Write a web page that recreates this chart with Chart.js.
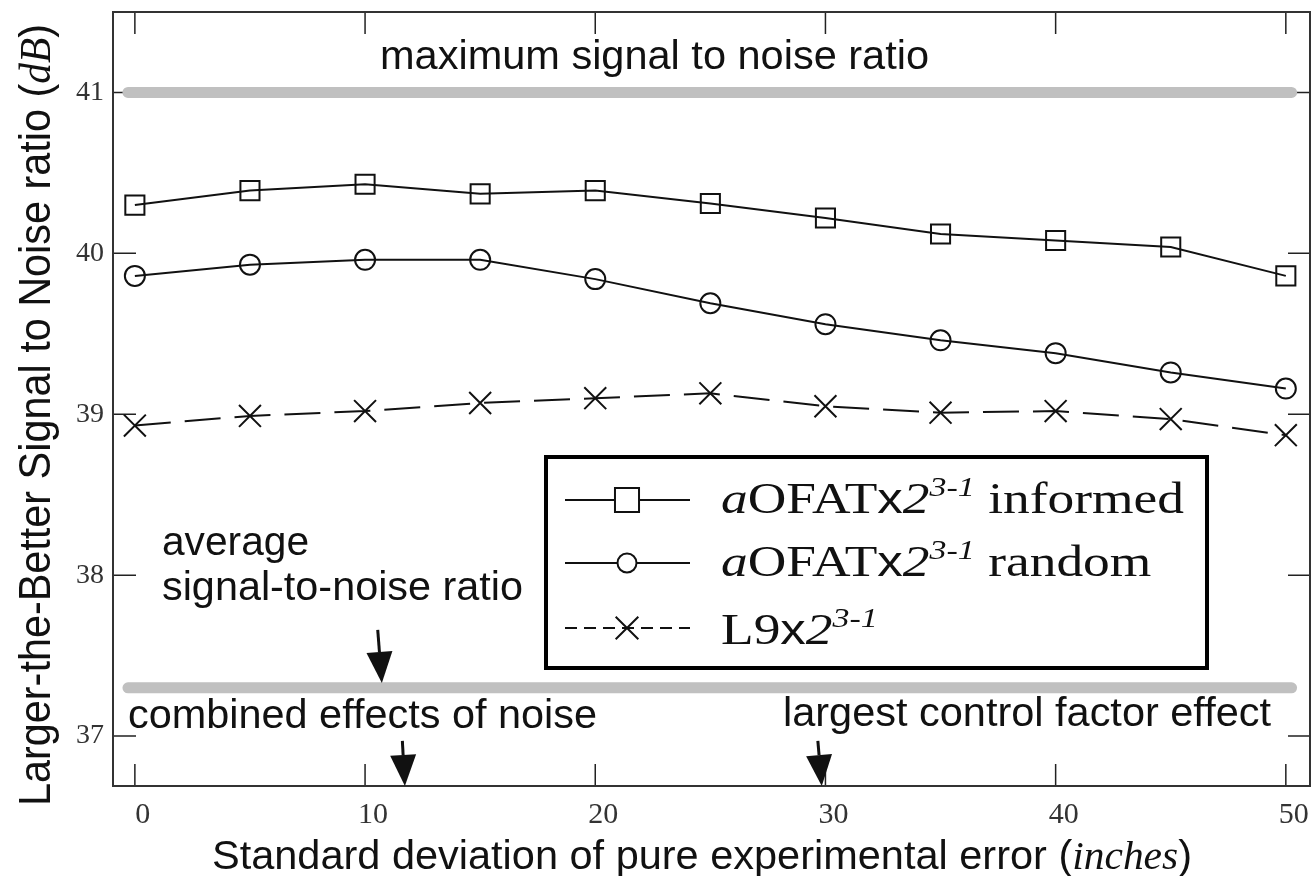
<!DOCTYPE html>
<html lang="en">
<head>
<meta charset="UTF-8">
<title>Larger-the-Better Signal to Noise ratio</title>
<script src="https://cdn.jsdelivr.net/npm/chart.js"></script>
<style>
  body { margin: 0; background: #fff; }
  .wrap { width: 1312px; height: 876px; position: relative; }
</style>
</head>
<body>
<div class="wrap"><canvas id="snChart"></canvas></div>
<script>
// standard deviation of pure experimental error (inches)
const errorSD = [0, 5, 10, 15, 20, 25, 30, 35, 40, 45, 50];
// larger-the-better S/N ratio (dB) per design
const informedSN = [40.30, 40.39, 40.43, 40.37, 40.39, 40.31, 40.22, 40.12, 40.08, 40.04, 39.86];
const randomSN   = [39.86, 39.93, 39.96, 39.96, 39.84, 39.69, 39.56, 39.46, 39.38, 39.26, 39.16];
const l9SN       = [38.93, 38.99, 39.02, 39.07, 39.10, 39.13, 39.05, 39.01, 39.02, 38.97, 38.87];

const xTicks = [0, 10, 20, 30, 40, 50];
const yTicks = [37, 38, 39, 40, 41];

// reference levels, drawn as wide grey bands
const maxSN = 41;
const avgSN = 37.3;
const bandSpan = [-0.3, 50.25];

// arrows as [sdFrom, snFrom, sdTo, snTo]
const avgArrow = [10.55, 37.66, 10.73, 37.33];
const noiseArrow = [11.62, 36.97, 11.73, 36.69];
const controlArrow = [29.67, 36.97, 29.84, 36.69];

const SANS = '"Liberation Sans", Arial, sans-serif';
const SERIF = '"Liberation Serif", "Times New Roman", serif';
const INK = '#111';

function pts(ys) { return errorSD.map((x, i) => ({ x: x, y: ys[i] })); }
function band(v) { return bandSpan.map(x => ({ x: x, y: v })); }

// text made of several font runs, squeezed/stretched to a given width
function runsWidth(ctx, runs) {
  let w = 0;
  runs.forEach(r => { ctx.font = r.f; w += ctx.measureText(r.t).width; });
  return w;
}
function drawRuns(ctx, runs, x, y, sx) {
  ctx.save();
  ctx.translate(x, y);
  ctx.scale(sx, 1);
  let cx = 0;
  runs.forEach(r => {
    ctx.font = r.f;
    ctx.fillText(r.t, cx, r.dy || 0);
    cx += ctx.measureText(r.t).width;
  });
  ctx.restore();
}
function fitText(ctx, runs, x, y, width) {
  drawRuns(ctx, runs, x, y, width / runsWidth(ctx, runs));
}

function arrow(ctx, x0, y0, x1, y1) {
  const a = Math.atan2(y1 - y0, x1 - x0);
  const hl = 31, hw = 13;
  const bx = x1 - hl * Math.cos(a), by = y1 - hl * Math.sin(a);
  ctx.lineWidth = 3;
  ctx.beginPath(); ctx.moveTo(x0, y0); ctx.lineTo(bx, by); ctx.stroke();
  ctx.beginPath();
  ctx.moveTo(x1, y1);
  ctx.lineTo(bx + hw * Math.sin(a), by - hw * Math.cos(a));
  ctx.lineTo(bx - hw * Math.sin(a), by + hw * Math.cos(a));
  ctx.closePath(); ctx.fill();
}

function marker(ctx, style, x, y, r) {
  ctx.beginPath();
  if (style === 'rect') {
    const s = r * Math.SQRT1_2;
    ctx.rect(x - s, y - s, 2 * s, 2 * s);
    ctx.fill(); ctx.stroke();
  } else if (style === 'circle') {
    ctx.arc(x, y, r, 0, Math.PI * 2);
    ctx.fill(); ctx.stroke();
  } else {
    const d = r * Math.SQRT1_2;
    ctx.moveTo(x - d, y - d); ctx.lineTo(x + d, y + d);
    ctx.moveTo(x + d, y - d); ctx.lineTo(x - d, y + d);
    ctx.stroke();
  }
}

// no extra room for overhanging tick labels: the frame is fixed
function fixBox(s, w, h) {
  if (w) s.width = w;
  if (h) s.height = h;
  s.paddingLeft = s.paddingRight = s.paddingTop = s.paddingBottom = 0;
}

const decor = {
  id: 'decor',
  beforeDatasetsDraw(chart) {
    const { ctx, chartArea: a, scales: { x, y } } = chart;
    ctx.save();
    ctx.strokeStyle = '#222';
    ctx.lineWidth = 1.5;
    ctx.beginPath();
    xTicks.forEach(v => {
      const px = x.getPixelForValue(v);
      ctx.moveTo(px, a.top); ctx.lineTo(px, a.top + 22);
      ctx.moveTo(px, a.bottom); ctx.lineTo(px, a.bottom - 22);
    });
    yTicks.forEach(v => {
      const py = y.getPixelForValue(v);
      ctx.moveTo(a.left, py); ctx.lineTo(a.left + 23, py);
      ctx.moveTo(a.right, py); ctx.lineTo(a.right - 22, py);
    });
    ctx.stroke();
    ctx.strokeStyle = '#333';
    ctx.lineWidth = 2;
    ctx.strokeRect(a.left, a.top, a.right - a.left, a.bottom - a.top);
    ctx.restore();
  },
  afterDatasetsDraw(chart) {
    const { ctx, scales: { x, y } } = chart;
    ctx.save();
    ctx.fillStyle = INK;
    ctx.strokeStyle = INK;
    ctx.textBaseline = 'alphabetic';

    // annotations
    const f40 = '40px ' + SANS;
    fitText(ctx, [{ t: 'maximum signal to noise ratio', f: f40 }], 380, y.getPixelForValue(maxSN) - 23, 549);
    fitText(ctx, [{ t: 'average', f: f40 }], 162, 555, 147);
    fitText(ctx, [{ t: 'signal-to-noise ratio', f: f40 }], 162, 600, 361);
    fitText(ctx, [{ t: 'combined effects of noise', f: f40 }], 128, 728, 469);
    fitText(ctx, [{ t: 'largest control factor effect', f: f40 }], 783, 726, 488);

    [avgArrow, noiseArrow, controlArrow].forEach(p => {
      arrow(ctx, x.getPixelForValue(p[0]), y.getPixelForValue(p[1]),
                 x.getPixelForValue(p[2]), y.getPixelForValue(p[3]));
    });

    // axis titles
    fitText(ctx, [
      { t: 'Standard deviation of pure experimental error (', f: f40 },
      { t: 'inches', f: 'italic 40px ' + SERIF },
      { t: ')', f: f40 }
    ], 212, 869, 980);

    ctx.save();
    ctx.translate(50, 806);
    ctx.rotate(-Math.PI / 2);
    fitText(ctx, [
      { t: 'Larger-the-Better Signal to Noise ratio (', f: '44px ' + SANS },
      { t: 'dB', f: 'italic 44px ' + SERIF },
      { t: ')', f: '44px ' + SANS }
    ], 0, 0, 782);
    ctx.restore();

    // legend
    const L = { left: 546, top: 457, w: 661, h: 211 };
    ctx.fillStyle = '#fff';
    ctx.fillRect(L.left, L.top, L.w, L.h);
    ctx.lineWidth = 4;
    ctx.strokeStyle = '#000';
    ctx.strokeRect(L.left, L.top, L.w, L.h);

    const big = '44px ' + SERIF, ital = 'italic 44px ' + SERIF;
    const sup = { t: '3-1', f: 'italic 28px ' + SERIF, dy: -17 };
    const design = [
      { t: 'a', f: ital }, { t: 'OFAT', f: big }, { t: 'x', f: '42px ' + SANS },
      { t: '2', f: ital }, sup
    ];
    const rows = [
      { ds: 0, runs: design.concat([{ t: ' informed', f: big }]), mr: 17 },
      { ds: 1, runs: design.concat([{ t: ' random', f: big }]), mr: 9.5 },
      { ds: 2, runs: [{ t: 'L9', f: big }, { t: 'x', f: '42px ' + SANS }, { t: '2', f: ital }, sup], mr: 16 }
    ];
    const sx = 463 / runsWidth(ctx, rows[0].runs);
    const lineY = [500, 563, 628];
    rows.forEach((r, i) => {
      const ds = chart.data.datasets[r.ds];
      const ly = lineY[i];
      ctx.strokeStyle = INK;
      ctx.lineWidth = 2;
      ctx.setLineDash(r.ds === 2 ? [12, 7] : []);
      ctx.beginPath(); ctx.moveTo(565, ly); ctx.lineTo(690, ly); ctx.stroke();
      ctx.setLineDash([]);
      ctx.fillStyle = '#fff';
      marker(ctx, ds.pointStyle, 627, ly, r.mr);
      ctx.fillStyle = INK;
      drawRuns(ctx, r.runs, 721, ly + 13 + (i === 2 ? 3 : 0), sx);
    });
    ctx.restore();
  }
};

const lineStyle = {
  borderColor: INK,
  borderWidth: 2,
  tension: 0,
  pointBorderColor: INK,
  pointBackgroundColor: 'rgba(0,0,0,0)',
  pointBorderWidth: 2,
  fill: false
};

new Chart(document.getElementById('snChart'), {
  type: 'line',
  data: {
    datasets: [
      Object.assign({ label: 'aOFATx2^3-1 informed', data: pts(informedSN), pointStyle: 'rect', pointRadius: 13.5 }, lineStyle),
      Object.assign({ label: 'aOFATx2^3-1 random', data: pts(randomSN), pointStyle: 'circle', pointRadius: 10 }, lineStyle),
      Object.assign({ label: 'L9x2^3-1', data: pts(l9SN), pointStyle: 'crossRot', pointRadius: 15.5, borderDash: [36, 14] }, lineStyle),
      { label: 'maximum', data: band(maxSN), borderColor: '#c0c0c0', borderWidth: 11, borderCapStyle: 'round', pointRadius: 0 },
      { label: 'average', data: band(avgSN), borderColor: '#c0c0c0', borderWidth: 11, borderCapStyle: 'round', pointRadius: 0 }
    ]
  },
  options: {
    responsive: true,
    maintainAspectRatio: false,
    animation: false,
    events: [],
    layout: { autoPadding: false, padding: { top: 12, right: 2, left: 0, bottom: 0 } },
    plugins: { legend: { display: false }, tooltip: { enabled: false } },
    scales: {
      x: {
        type: 'linear',
        min: -0.95,
        max: 51.05,
        grid: { display: false, drawTicks: false },
        border: { display: false },
        afterBuildTicks: s => { s.ticks = xTicks.map(v => ({ value: v })); },
        afterFit: s => fixBox(s, 0, 90),
        ticks: {
          autoSkip: false,
          maxRotation: 0,
          padding: 11,
          labelOffset: 8,
          color: '#333',
          font: { family: SERIF, size: 30 }
        }
      },
      y: {
        min: 36.69,
        max: 41.5,
        grid: { display: false, drawTicks: false },
        border: { display: false },
        afterBuildTicks: s => { s.ticks = yTicks.map(v => ({ value: v })); },
        afterFit: s => fixBox(s, 113, 0),
        ticks: {
          padding: 9,
          color: '#333',
          font: { family: SERIF, size: 28 }
        }
      }
    }
  },
  plugins: [decor]
});
</script>
</body>
</html>
